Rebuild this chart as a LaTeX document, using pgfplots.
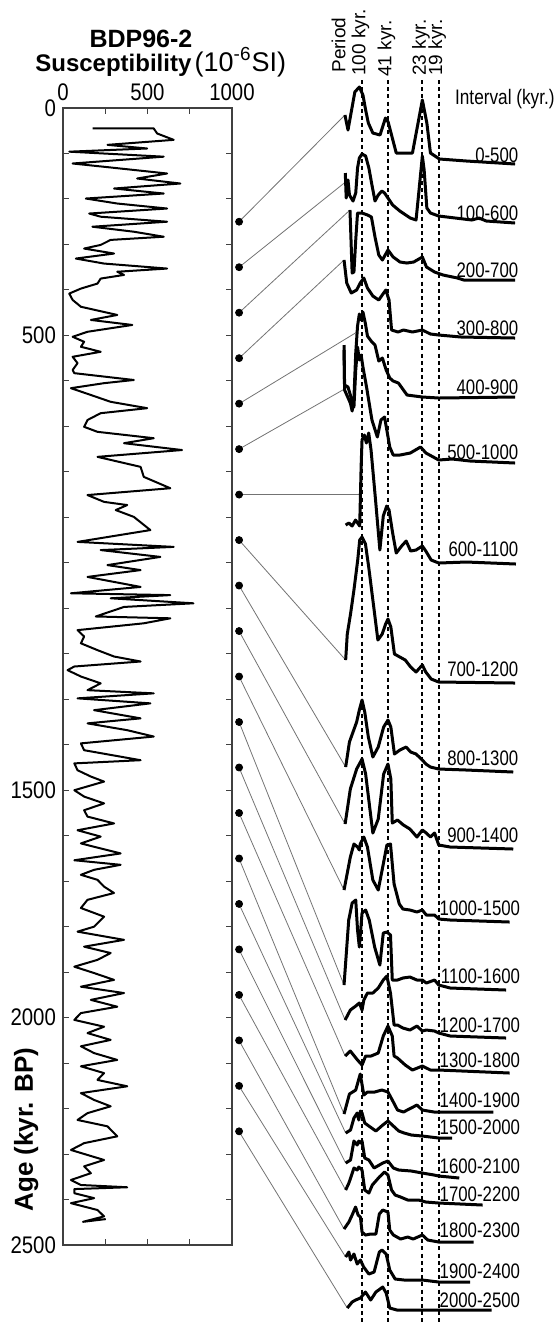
\documentclass[border=0pt]{standalone}
\usepackage{fontspec}
\setmainfont{Liberation Sans}
\usepackage{graphicx}
\usepackage{pgfplots}
\pgfplotsset{compat=1.18}
\tikzset{
  spec/.style={black, line width=1.5pt, line join=round},
  conn/.style={black!55, line width=0.4pt},
  per/.style={black, line width=0.9pt, dash pattern=on 2pt off 1.6pt},
  lab/.style={inner sep=0pt, font=\fontsize{10.5}{11}\selectfont},
}
\begin{document}
\begin{tikzpicture}
\useasboundingbox (0,0) rectangle (278pt,-661pt);
% ---------------- left panel: susceptibility vs age ----------------
\begin{axis}[
  scale only axis, width=84.5pt, height=568.5pt,
  at={(31.5pt,-54pt)}, anchor=north west,
  xmin=0, xmax=1000, ymin=0, ymax=2500, y dir=reverse,
  xtick={0,500,1000}, minor xtick={250,750},
  ytick={0,500,1500,2000,2500}, minor ytick={100,200,...,2400},
  xticklabel pos=upper,
  tick align=inside, major tick length=3pt, minor tick length=3pt,
  axis line style={black!75, line width=0.6pt},
  every tick/.style={black!75, line width=0.5pt},
  /pgf/number format/assume math mode=true,
  /pgf/number format/1000 sep={},
  tick label style={font=\fontsize{12}{12}\selectfont},
  xticklabel={\scalebox{0.85}[1]{\pgfmathprintnumber{\tick}}},
  yticklabel={\scalebox{0.85}[1]{\pgfmathprintnumber{\tick}}},
]
\addplot[black, line width=1pt, line join=round] coordinates {
(175,45)(537,45)(557,56)(655,70)(263,81)(498,89)(37,96)(596,107)(57,122)(263,130)(616,144)(439,155)(694,166)(302,177)(596,188)(135,199)(321,210)(616,221)(155,232)(223,239)(616,250)(174,261)(419,272)(596,283)(282,290)(223,301)(125,309)(302,320)(76,331)(243,342)(616,353)(321,360)(361,367)(223,375)(204,386)(106,397)(37,408)(57,422)(106,437)(321,455)(165,466)(410,477)(145,492)(57,503)(125,514)(106,525)(223,536)(57,547)(86,561)(57,576)(67,583)(419,598)(243,605)(47,616)(165,631)(282,646)(498,660)(223,671)(145,686)(125,701)(204,712)(537,726)(361,737)(704,752)(204,767)(459,789)
(478,811)(635,836)(145,851)(243,866)(380,873)(312,884)(419,899)(517,928)(86,954)(655,965)(223,972)(576,987)(263,1005)(459,1016)(145,1031)(459,1053)(47,1067)(635,1071)(282,1078)(772,1089)(361,1097)(194,1118)(635,1122)(478,1133)(86,1148)(125,1162)(106,1177)(204,1192)(302,1206)(459,1217)(67,1228)(27,1236)(106,1250)(223,1265)(145,1280)(537,1287)(86,1298)(517,1309)(184,1324)(459,1342)(145,1353)(380,1368)(537,1382)(106,1397)(125,1412)(459,1434)(67,1441)(86,1456)(165,1470)(243,1481)(67,1500)(125,1514)(243,1529)(125,1544)(145,1558)(302,1573)(86,1588)(223,1602)(106,1617)(341,1639)(67,1654)
(341,1664)(184,1675)(106,1686)(204,1697)(243,1712)(302,1726)(145,1741)(106,1759)(243,1778)(184,1800)(86,1811)(361,1829)(125,1844)(282,1858)(204,1873)(67,1888)(184,1902)(302,1917)(106,1932)(361,1946)(165,1961)(321,1976)(106,1990)(67,2005)(243,2020)(145,2034)(282,2049)(106,2063)(184,2078)(321,2093)(106,2107)(243,2122)(204,2137)(380,2151)(106,2166)(184,2181)(282,2195)(145,2210)(86,2225)(263,2239)(321,2261)(125,2276)(47,2291)(243,2313)(125,2327)(165,2342)(47,2357)(106,2368)(380,2373)(67,2377)(67,2386)(184,2397)(47,2408)(204,2423)(243,2437)(118,2449)(253,2443)
};
\end{axis}
% ---------------- overlay: spectra (x = frequency, y = page position) ----------------
\begin{axis}[
  scale only axis, width=278pt, height=661pt,
  at={(0pt,0pt)}, anchor=north west,
  xmin=-0.19111, xmax=0.11778, ymin=0, ymax=1322, y dir=reverse,
  hide axis, clip=false,
]
% period lines
\addplot[per] coordinates {(0.01,80) (0.01,1322)};
\addplot[per] coordinates {(0.02439,80) (0.02439,1322)};
\addplot[per] coordinates {(0.04348,80) (0.04348,1322)};
\addplot[per] coordinates {(0.05263,80) (0.05263,1322)};
% connectors
\addplot[conn] coordinates {(-0.0583,221.7) (0.0005,115)};
\addplot[conn] coordinates {(-0.0583,267.2) (0.0022,180)};
\addplot[conn] coordinates {(-0.0583,312.7) (0.0033,210)};
\addplot[conn] coordinates {(-0.0583,358.2) (0.0,260)};
\addplot[conn] coordinates {(-0.0583,403.7) (0.0072,332)};
\addplot[conn] coordinates {(-0.0583,449.1) (0.0022,387)};
\addplot[conn] coordinates {(-0.0583,494.6) (0.0091,494.6)};
\addplot[conn] coordinates {(-0.0583,540.1) (0.0009,660)};
\addplot[conn] coordinates {(-0.0583,585.6) (0.0009,767)};
\addplot[conn] coordinates {(-0.0583,631.1) (0.0006,824)};
\addplot[conn] coordinates {(-0.0583,676.6) (0.0,890)};
\addplot[conn] coordinates {(-0.0583,722.1) (0.0,985)};
\addplot[conn] coordinates {(-0.0583,767.6) (0.0006,1020)};
\addplot[conn] coordinates {(-0.0583,813.1) (0.0006,1056)};
\addplot[conn] coordinates {(-0.0583,858.6) (0.0,1114)};
\addplot[conn] coordinates {(-0.0583,904.1) (0.0009,1133)};
\addplot[conn] coordinates {(-0.0583,949.6) (0.0009,1163)};
\addplot[conn] coordinates {(-0.0583,995.1) (0.0009,1190)};
\addplot[conn] coordinates {(-0.0583,1040.6) (0.0,1229)};
\addplot[conn] coordinates {(-0.0583,1086.1) (0.0009,1257)};
\addplot[conn] coordinates {(-0.0583,1131.6) (0.0018,1308)};
% dots at interval mid-ages
\addplot[only marks, mark=*, mark size=1.75pt, black] table[x expr=-0.0583, y expr={108+0.4548*\thisrow{age}}, row sep=\\] {
age\\ 250\\ 350\\ 450\\ 550\\ 650\\ 750\\ 850\\ 950\\ 1050\\ 1150\\ 1250\\ 1350\\ 1450\\ 1550\\ 1650\\ 1750\\ 1850\\ 1950\\ 2050\\ 2150\\ 2250\\};
% spectra
\addplot[spec] table[x=f, y expr={165-\thisrow{h}}, row sep=\\] {f h\\ 0.0005 50\\ 0.0022 35\\ 0.006 73\\ 0.0085 78\\ 0.0105 70\\ 0.012 55\\ 0.0135 42\\ 0.016 32\\ 0.020 30\\ 0.023 47\\ 0.0245 43\\ 0.029 12\\ 0.038 12\\ 0.0435 65\\ 0.046 42\\ 0.048 12\\ 0.053 6\\ 0.068 4\\ 0.095 1\\};
\addplot[spec] table[x=f, y expr={223-\thisrow{h}}, row sep=\\] {f h\\ 0.0007 50\\ 0.0012 25\\ 0.0022 43\\ 0.003 28\\ 0.005 22\\ 0.0065 30\\ 0.0075 55\\ 0.0085 65\\ 0.010 69\\ 0.012 67\\ 0.0138 55\\ 0.0155 38\\ 0.0172 22\\ 0.019 28\\ 0.021 32\\ 0.0225 30\\ 0.0244 25\\ 0.027 18\\ 0.031 12\\ 0.0368 5\\ 0.040 3\\ 0.0415 30\\ 0.0435 67\\ 0.0445 53\\ 0.046 15\\ 0.048 10\\ 0.0526 7\\ 0.071 3\\ 0.075 5\\ 0.079 2\\ 0.095 0\\};
\addplot[spec] table[x=f, y expr={280-\thisrow{h}}, row sep=\\] {f h\\ 0.0033 70\\ 0.0045 7\\ 0.0055 8\\ 0.0065 40\\ 0.0075 67\\ 0.010 67\\ 0.0131 65\\ 0.0152 63\\ 0.0172 43\\ 0.0193 25\\ 0.0213 20\\ 0.0244 30\\ 0.0273 23\\ 0.0311 18\\ 0.0349 17\\ 0.0387 18\\ 0.0435 23\\ 0.0458 13\\ 0.0503 8\\ 0.055 5\\ 0.063 2\\ 0.0665 0\\ 0.095 0\\};
\addplot[spec] table[x=f, y expr={338-\thisrow{h}}, row sep=\\] {f h\\ 0.0 78\\ 0.0015 55\\ 0.004 45\\ 0.007 48\\ 0.009 55\\ 0.011 60\\ 0.013 50\\ 0.016 42\\ 0.0193 38\\ 0.022 45\\ 0.0232 48\\ 0.025 38\\ 0.0264 8\\ 0.030 6\\ 0.033 8\\ 0.038 6\\ 0.0435 8\\ 0.048 4\\ 0.0526 3\\ 0.065 1\\ 0.095 0\\};
\addplot[spec] table[x=f, y expr={398-\thisrow{h}}, row sep=\\] {f h\\ 0.0 48\\ 0.0003 8\\ 0.0035 -5\\ 0.0045 -13\\ 0.0055 0\\ 0.0065 45\\ 0.0075 72\\ 0.0085 84\\ 0.0095 78\\ 0.0105 86\\ 0.0118 75\\ 0.013 62\\ 0.0155 56\\ 0.0172 53\\ 0.0193 37\\ 0.0213 40\\ 0.0234 28\\ 0.0254 20\\ 0.0273 17\\ 0.0302 15\\ 0.035 3\\ 0.0435 1\\ 0.0526 0\\ 0.095 1\\};
\addplot[spec] table[x=f, y expr={465-\thisrow{h}}, row sep=\\] {f h\\ 0.0 120\\ 0.0003 80\\ 0.0022 78\\ 0.0035 70\\ 0.0055 58\\ 0.0065 95\\ 0.0075 118\\ 0.0085 105\\ 0.0095 110\\ 0.0105 98\\ 0.0125 78\\ 0.0155 45\\ 0.0185 28\\ 0.0205 45\\ 0.0225 48\\ 0.0254 18\\ 0.0273 10\\ 0.0311 10\\ 0.0368 12\\ 0.0425 18\\ 0.0455 12\\ 0.0526 5\\ 0.060 6\\ 0.070 4\\ 0.095 2\\};
\addplot[spec] table[x=f, y expr={564-\thisrow{h}}, row sep=\\] {f h\\ 0.0009 39\\ 0.0027 41\\ 0.0045 38\\ 0.0064 44\\ 0.0087 38\\ 0.0095 98\\ 0.010 124\\ 0.0113 129\\ 0.0124 121\\ 0.0137 131\\ 0.015 114\\ 0.0175 64\\ 0.0199 14\\ 0.0218 48\\ 0.0237 58\\ 0.025 54\\ 0.027 31\\ 0.029 11\\ 0.032 18\\ 0.0345 23\\ 0.037 13\\ 0.040 14\\ 0.0435 18\\ 0.0454 13\\ 0.0484 4\\ 0.0526 1\\ 0.068 2\\ 0.0955 0\\};
\addplot[spec] table[x=f, y expr={683-\thisrow{h}}, row sep=\\] {f h\\ 0.0009 23\\ 0.0018 49\\ 0.0036 69\\ 0.0055 93\\ 0.0076 123\\ 0.0087 143\\ 0.010 146\\ 0.0119 139\\ 0.0137 116\\ 0.0165 76\\ 0.0188 43\\ 0.0212 49\\ 0.0231 59\\ 0.0244 64\\ 0.026 56\\ 0.028 29\\ 0.031 26\\ 0.034 23\\ 0.037 16\\ 0.040 11\\ 0.0435 18\\ 0.0454 11\\ 0.0484 4\\ 0.0526 1\\ 0.095 0\\};
\addplot[spec] table[x=f, y expr={772-\thisrow{h}}, row sep=\\] {f h\\ 0.0009 5\\ 0.003 30\\ 0.005 40\\ 0.007 50\\ 0.0085 62\\ 0.010 72\\ 0.0115 60\\ 0.0135 35\\ 0.016 15\\ 0.019 25\\ 0.022 45\\ 0.0244 52\\ 0.026 45\\ 0.028 18\\ 0.031 22\\ 0.0345 25\\ 0.037 20\\ 0.040 18\\ 0.0435 12\\ 0.0455 8\\ 0.048 5\\ 0.0526 3\\ 0.068 2\\ 0.094 0\\};
\addplot[spec] table[x=f, y expr={849-\thisrow{h}}, row sep=\\] {f h\\ 0.0006 25\\ 0.0035 60\\ 0.007 80\\ 0.0085 85\\ 0.010 90\\ 0.012 75\\ 0.016 16\\ 0.019 30\\ 0.022 75\\ 0.0244 85\\ 0.026 70\\ 0.0268 26\\ 0.0297 29\\ 0.033 24\\ 0.0366 20\\ 0.0405 12\\ 0.0435 19\\ 0.0457 16\\ 0.048 12\\ 0.0503 16\\ 0.0526 4\\ 0.059 2\\ 0.094 0\\};
\addplot[spec] table[x=f, y expr={922-\thisrow{h}}, row sep=\\] {f h\\ 0.0 32\\ 0.0035 65\\ 0.0055 78\\ 0.0075 75\\ 0.0085 72\\ 0.009 78\\ 0.011 85\\ 0.013 75\\ 0.016 42\\ 0.019 32\\ 0.0218 58\\ 0.0238 77\\ 0.0258 78\\ 0.0278 38\\ 0.0297 25\\ 0.0307 18\\ 0.0327 13\\ 0.0366 12\\ 0.0405 10\\ 0.0435 12\\ 0.0457 7\\ 0.0503 7\\ 0.0526 3\\ 0.059 2\\ 0.092 0\\};
\addplot[spec] table[x=f, y expr={990-\thisrow{h}}, row sep=\\] {f h\\ 0.0 5\\ 0.0026 70\\ 0.0045 87\\ 0.0065 90\\ 0.0075 60\\ 0.0085 43\\ 0.010 77\\ 0.012 80\\ 0.014 70\\ 0.017 43\\ 0.0199 25\\ 0.0218 57\\ 0.0238 58\\ 0.0258 55\\ 0.0268 10\\ 0.0297 10\\ 0.0327 12\\ 0.0366 13\\ 0.0405 10\\ 0.0435 10\\ 0.0457 7\\ 0.0503 10\\ 0.0526 5\\ 0.059 2\\ 0.09 0\\};
\addplot[spec] table[x=f, y expr={1038-\thisrow{h}}, row sep=\\] {f h\\ 0.0006 18\\ 0.0035 28\\ 0.0065 32\\ 0.0085 35\\ 0.010 28\\ 0.011 38\\ 0.013 45\\ 0.016 45\\ 0.019 50\\ 0.0218 58\\ 0.0238 62\\ 0.0258 45\\ 0.0278 13\\ 0.0297 13\\ 0.0327 10\\ 0.0366 8\\ 0.0405 12\\ 0.0435 7\\ 0.0457 8\\ 0.0503 7\\ 0.0526 5\\ 0.059 2\\ 0.09 0\\};
\addplot[spec] table[x=f, y expr={1073-\thisrow{h}}, row sep=\\] {f h\\ 0.0006 17\\ 0.0035 22\\ 0.0075 13\\ 0.010 8\\ 0.012 17\\ 0.015 17\\ 0.019 20\\ 0.0218 37\\ 0.0244 47\\ 0.0268 37\\ 0.0278 17\\ 0.0297 15\\ 0.034 8\\ 0.038 3\\ 0.0435 7\\ 0.048 3\\ 0.0526 3\\ 0.092 0\\};
\addplot[spec] table[x=f, y expr={1112-\thisrow{h}}, row sep=\\] {f h\\ 0.0 -2\\ 0.003 18\\ 0.0065 22\\ 0.009 38\\ 0.011 17\\ 0.013 20\\ 0.017 20\\ 0.021 22\\ 0.0244 20\\ 0.0268 12\\ 0.0297 2\\ 0.033 0\\ 0.0405 7\\ 0.0435 2\\ 0.05 0\\ 0.083 0\\};
\addplot[spec] table[x=f, y expr={1138-\thisrow{h}}, row sep=\\] {f h\\ 0.0009 5\\ 0.0036 8\\ 0.0055 20\\ 0.0073 25\\ 0.0082 18\\ 0.0091 27\\ 0.010 25\\ 0.0115 15\\ 0.0138 12\\ 0.0177 7\\ 0.0215 13\\ 0.0244 17\\ 0.0274 12\\ 0.0304 7\\ 0.0334 5\\ 0.0374 3\\ 0.0435 2\\ 0.0526 0\\ 0.060 0\\};
\addplot[spec] table[x=f, y expr={1178-\thisrow{h}}, row sep=\\] {f h\\ 0.0009 15\\ 0.0036 18\\ 0.0055 37\\ 0.0073 33\\ 0.0082 37\\ 0.0091 35\\ 0.010 37\\ 0.0115 20\\ 0.0138 18\\ 0.0167 10\\ 0.0196 13\\ 0.0215 15\\ 0.0244 17\\ 0.0274 10\\ 0.0304 8\\ 0.0374 7\\ 0.0435 5\\ 0.050 3\\ 0.0526 2\\ 0.064 0\\};
\addplot[spec] table[x=f, y expr={1205-\thisrow{h}}, row sep=\\] {f h\\ 0.0009 15\\ 0.0027 22\\ 0.0055 37\\ 0.0073 35\\ 0.0082 38\\ 0.010 35\\ 0.0115 15\\ 0.0138 12\\ 0.0157 20\\ 0.0196 28\\ 0.0225 33\\ 0.0244 30\\ 0.0264 15\\ 0.0284 10\\ 0.0314 8\\ 0.0354 5\\ 0.0414 5\\ 0.0455 3\\ 0.0526 2\\ 0.077 0\\};
\addplot[spec] table[x=f, y expr={1242-\thisrow{h}}, row sep=\\] {f h\\ 0.0 13\\ 0.0027 20\\ 0.0045 27\\ 0.0064 35\\ 0.0078 27\\ 0.0091 25\\ 0.010 10\\ 0.0119 7\\ 0.0148 8\\ 0.0177 8\\ 0.0196 28\\ 0.0215 32\\ 0.0244 30\\ 0.0254 12\\ 0.0274 7\\ 0.0314 3\\ 0.0354 5\\ 0.0384 3\\ 0.0435 7\\ 0.0465 2\\ 0.0526 0\\ 0.072 0\\};
\addplot[spec] table[x=f, y expr={1282-\thisrow{h}}, row sep=\\] {f h\\ 0.0009 25\\ 0.0027 30\\ 0.0036 22\\ 0.0055 28\\ 0.0073 18\\ 0.0091 22\\ 0.0109 15\\ 0.0138 8\\ 0.0167 10\\ 0.0196 30\\ 0.0211 32\\ 0.0234 28\\ 0.0254 12\\ 0.0284 3\\ 0.0334 2\\ 0.0435 2\\ 0.0526 0\\ 0.070 0\\};
\addplot[spec] table[x=f, y expr={1310-\thisrow{h}}, row sep=\\] {f h\\ 0.0018 2\\ 0.0045 8\\ 0.0064 10\\ 0.0091 12\\ 0.0119 18\\ 0.0148 10\\ 0.0177 18\\ 0.0215 23\\ 0.0234 17\\ 0.0254 2\\ 0.0294 0\\ 0.0526 0\\ 0.082 0\\};
% interval labels
\node[lab, anchor=base east] at (axis cs:0.097,162) {\scalebox{0.8}[1]{0-500}};
\node[lab, anchor=base east] at (axis cs:0.097,220) {\scalebox{0.8}[1]{100-600}};
\node[lab, anchor=base east] at (axis cs:0.097,277) {\scalebox{0.8}[1]{200-700}};
\node[lab, anchor=base east] at (axis cs:0.097,335) {\scalebox{0.8}[1]{300-800}};
\node[lab, anchor=base east] at (axis cs:0.097,394) {\scalebox{0.8}[1]{400-900}};
\node[lab, anchor=base east] at (axis cs:0.097,459) {\scalebox{0.8}[1]{500-1000}};
\node[lab, anchor=base east] at (axis cs:0.097,556) {\scalebox{0.8}[1]{600-1100}};
\node[lab, anchor=base east] at (axis cs:0.097,676) {\scalebox{0.8}[1]{700-1200}};
\node[lab, anchor=base east] at (axis cs:0.097,765) {\scalebox{0.8}[1]{800-1300}};
\node[lab, anchor=base east] at (axis cs:0.097,842) {\scalebox{0.8}[1]{900-1400}};
\node[lab, anchor=base east] at (axis cs:0.098,915) {\scalebox{0.8}[1]{1000-1500}};
\node[lab, anchor=base east] at (axis cs:0.098,983) {\scalebox{0.8}[1]{1100-1600}};
\node[lab, anchor=base east] at (axis cs:0.098,1032) {\scalebox{0.8}[1]{1200-1700}};
\node[lab, anchor=base east] at (axis cs:0.098,1067) {\scalebox{0.8}[1]{1300-1800}};
\node[lab, anchor=base east] at (axis cs:0.098,1107) {\scalebox{0.8}[1]{1400-1900}};
\node[lab, anchor=base east] at (axis cs:0.098,1134) {\scalebox{0.8}[1]{1500-2000}};
\node[lab, anchor=base east] at (axis cs:0.098,1173) {\scalebox{0.8}[1]{1600-2100}};
\node[lab, anchor=base east] at (axis cs:0.098,1201) {\scalebox{0.8}[1]{1700-2200}};
\node[lab, anchor=base east] at (axis cs:0.098,1237) {\scalebox{0.8}[1]{1800-2300}};
\node[lab, anchor=base east] at (axis cs:0.098,1278) {\scalebox{0.8}[1]{1900-2400}};
\node[lab, anchor=base east] at (axis cs:0.098,1307) {\scalebox{0.8}[1]{2000-2500}};
% period headings
\node[lab, font=\fontsize{9.5}{10}\selectfont, rotate=90, anchor=base west] at (axis cs:0.0008,73) {Period};
\node[lab, font=\fontsize{9.5}{10}\selectfont, rotate=90, anchor=base west] at (axis cs:0.0119,76) {100 kyr.};
\node[lab, font=\fontsize{9.5}{10}\selectfont, rotate=90, anchor=base west] at (axis cs:0.0263,77) {41 kyr.};
\node[lab, font=\fontsize{9.5}{10}\selectfont, rotate=90, anchor=base west] at (axis cs:0.0454,76) {23 kyr.};
\node[lab, font=\fontsize{9.5}{10}\selectfont, rotate=90, anchor=base west] at (axis cs:0.0545,76) {19 kyr.};
\node[inner sep=0pt, anchor=base east, font=\fontsize{10.5}{11}\selectfont] at (axis cs:0.1172,104) {\scalebox{0.82}[1]{Interval (kyr.)}};
% titles
\node[inner sep=0pt, anchor=base, font=\bfseries\fontsize{12.5}{13}\selectfont] at (axis cs:-0.1128,47) {BDP96-2};
\node[inner sep=0pt, anchor=base west] at (axis cs:-0.1717,71) {{\bfseries\fontsize{12}{12}\selectfont Susceptibility}\,{\fontsize{13.5}{14}\selectfont (10\textsuperscript{-6}SI)}};
\node[inner sep=0pt, rotate=90, anchor=base west, font=\bfseries\fontsize{13}{13}\selectfont] at (axis cs:-0.1728,1212) {Age (kyr. BP)};
\end{axis}
\end{tikzpicture}
\end{document}
